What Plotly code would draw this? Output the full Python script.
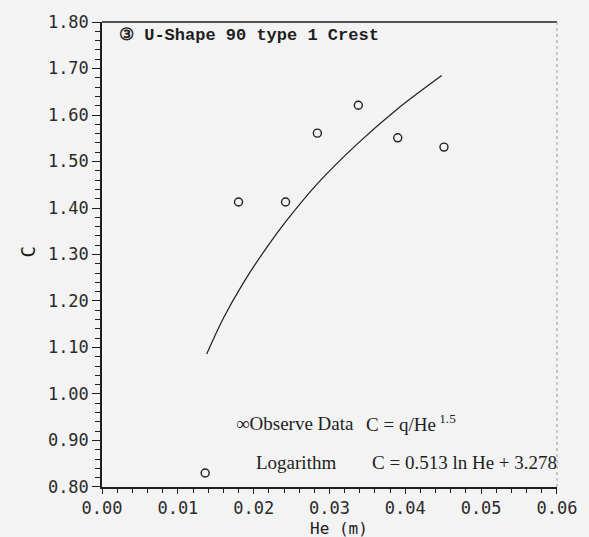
import plotly.graph_objects as go

# Observed data (He in m, discharge coefficient C)
obs_he = [0.0136, 0.0180, 0.0242, 0.0284, 0.0338, 0.0390, 0.0451]
obs_c = [0.83, 1.413, 1.413, 1.561, 1.621, 1.551, 1.531]

# Logarithmic fit curve
fit_he = [0.0138, 0.0160, 0.0186, 0.0218, 0.0242, 0.0285, 0.0336, 0.0388, 0.0448]
fit_c = [1.086, 1.163, 1.238, 1.317, 1.370, 1.454, 1.537, 1.611, 1.685]

title_text = "③ U-Shape 90 type 1 Crest"
x_title = "He (m)"
y_title = "C"
legend_obs = "∞Observe Data"
legend_obs_eq = "C = q/He<sup> 1.5</sup>"
legend_fit = "Logarithm"
legend_fit_eq = "C = 0.513 ln He + 3.278"

ink = "#1e1e1e"
bg = "#f3f3f3"
mono = "DejaVu Sans Mono"
serif = "Liberation Serif"

fig = go.Figure()
fig.add_trace(go.Scatter(
    x=fit_he, y=fit_c, mode="lines", line=dict(color=ink, width=1.2, shape="spline"),
    showlegend=False, hoverinfo="skip"))
fig.add_trace(go.Scatter(
    x=obs_he, y=obs_c, mode="markers",
    marker=dict(symbol="circle-open", size=8, color=ink, line=dict(width=1.4, color=ink)),
    showlegend=False))

axis_common = dict(
    showgrid=False, zeroline=False, showline=True, linecolor=ink, linewidth=1.5,
    ticks="outside", tickwidth=1.3, tickcolor=ink,
    tickfont=dict(family=mono, size=17, color="#2a2a2a"), tickformat=".2f",
)
fig.update_xaxes(range=[-0.00001, 0.06001], dtick=0.01, tick0=0, ticklen=5,
                 minor=dict(dtick=0.002, ticks="outside", ticklen=4, tickwidth=1.1, tickcolor=ink),
                 **axis_common)
fig.update_yaxes(range=[0.7999, 1.8001], dtick=0.1, tick0=0.8, ticklen=8,
                 minor=dict(dtick=0.02, ticks="outside", ticklen=5, tickwidth=1.1, tickcolor=ink),
                 **axis_common)

# frame: top solid, right dotted faint
fig.add_shape(type="line", xref="x domain", yref="y domain", x0=0, x1=1, y0=1, y1=1,
              line=dict(color=ink, width=1.5))
fig.add_shape(type="line", xref="x domain", yref="y domain", x0=1, x1=1, y0=0, y1=1,
              line=dict(color="#9a9a9a", width=1, dash="dot"))

ann = []
ann.append(dict(text=title_text, xref="paper", yref="paper", x=0.034, y=0.970,
                xanchor="left", yanchor="middle", showarrow=False,
                font=dict(family="Liberation Mono", size=17, color=ink, weight="bold")))
ann.append(dict(text=x_title, xref="paper", yref="paper", x=0.521, y=-0.089,
                xanchor="center", yanchor="middle", showarrow=False,
                font=dict(family=mono, size=16, color=ink)))
ann.append(dict(text=y_title, xref="paper", yref="paper", x=-0.163, y=0.506,
                xanchor="center", yanchor="middle", showarrow=False, textangle=-90,
                font=dict(family=mono, size=19, color=ink)))
ann.append(dict(text=legend_obs, xref="paper", yref="paper", x=0.290, y=0.137,
                xanchor="left", yanchor="middle", showarrow=False,
                font=dict(family=serif, size=19, color=ink)))
ann.append(dict(text=legend_obs_eq, xref="paper", yref="paper", x=0.576, y=0.137,
                xanchor="left", yanchor="middle", showarrow=False,
                font=dict(family=serif, size=19, color=ink)))
ann.append(dict(text=legend_fit, xref="paper", yref="paper", x=0.333, y=0.053,
                xanchor="left", yanchor="middle", showarrow=False,
                font=dict(family=serif, size=19, color=ink)))
ann.append(dict(text=legend_fit_eq, xref="paper", yref="paper", x=0.590, y=0.053,
                xanchor="left", yanchor="middle", showarrow=False,
                font=dict(family=serif, size=19, color=ink)))

fig.update_layout(
    width=589, height=537,
    margin=dict(l=102, r=21, t=19, b=50),
    paper_bgcolor=bg, plot_bgcolor=bg,
    annotations=ann,
    showlegend=False,
)

fig.write_html("out.html")
